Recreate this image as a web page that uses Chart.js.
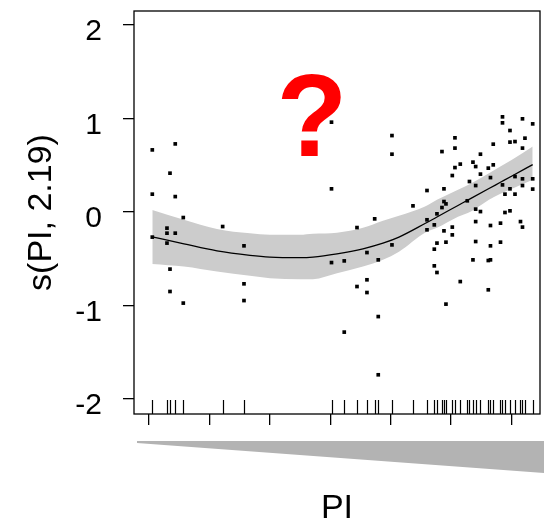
<!DOCTYPE html>
<html>
<head>
<meta charset="utf-8">
<script src="https://cdn.jsdelivr.net/npm/chart.js@4.4.1/dist/chart.umd.min.js"></script>
<style>
  html, body { margin: 0; padding: 0; background: #fff; }
  canvas { display: block; }
</style>
</head>
<body>
<canvas id="smoothPlot" width="544" height="522"></canvas>
<script>
// s(PI, 2.19): fitted smooth, +/- 2 SE band and partial residuals

const X_TICKS = [0, 1, 2, 3, 4, 5, 6];
const Y_TICKS = [-2, -1, 0, 1, 2];

const FIT_X = [0.055, 0.579, 1.126, 1.672, 2.003, 2.500, 2.715, 3.113, 3.543, 3.874,
               4.139, 4.570, 4.768, 5.116, 5.331, 5.629, 5.811, 6.010, 6.353];
const FIT_Y = [-0.267, -0.342, -0.417, -0.465, -0.484, -0.490, -0.484, -0.449, -0.395, -0.335,
               -0.270, -0.125, -0.055, 0.068, 0.144, 0.249, 0.313, 0.383, 0.505];
const BAND_UPPER = [0.021, -0.085, -0.182, -0.230, -0.246, -0.246, -0.235, -0.224, -0.171, -0.096,
                    -0.043, 0.057, 0.128, 0.235, 0.303, 0.413, 0.481, 0.556, 0.698];
const BAND_LOWER = [-0.556, -0.584, -0.638, -0.684, -0.709, -0.721, -0.719, -0.655, -0.584, -0.513,
                    -0.427, -0.224, -0.171, -0.053, 0.003, 0.128, 0.192, 0.246, 0.342];

const RESID_X = [
  0.055, 0.435, 0.348, 0.055, 0.435, 0.568, 1.220, 0.298, 0.298, 0.435,
  0.055, 0.298, 1.573, 0.348, 0.348, 0.568, 1.573, 1.573,
  3.022, 4.023, 4.023, 3.022, 3.737, 3.444, 3.022, 3.233, 3.609, 3.796,
  4.023, 3.609, 3.444, 3.609, 3.796, 3.233, 3.796,
  5.853, 5.853, 6.184, 6.353, 5.977, 5.066, 5.977, 6.060, 6.225, 5.700,
  5.066, 6.184, 4.851, 5.488, 5.154, 5.066, 5.364, 5.409, 5.618, 5.700,
  5.022, 5.488, 5.654, 5.306, 5.409, 6.060, 6.184, 6.353, 4.884, 4.603,
  5.853, 5.977, 6.184, 6.353, 5.894, 6.060, 4.371, 4.884, 4.917, 5.270,
  4.851, 5.409, 5.488, 5.894, 5.977, 4.768, 4.603, 5.409, 4.724, 6.151,
  6.184, 4.603, 5.022, 4.884, 5.022, 5.654, 5.820, 4.768, 4.917, 5.409,
  5.820, 4.724, 5.654, 5.364, 5.618, 5.654, 4.724, 4.768, 5.154, 5.618,
  4.917
];
const RESID_Y = [
  0.662, 0.726, 0.413, 0.189, 0.163, -0.061, -0.157, -0.174, -0.228, -0.228,
  -0.270, -0.334, -0.363, -0.612, -0.851, -0.975, -0.769, -0.948,
  0.958, 0.815, 0.616, 0.246, -0.075, -0.168, -0.542, -0.524, -0.435, -0.513,
  -0.353, -0.726, -0.798, -0.862, -1.119, -1.285, -1.741,
  1.015, 0.951, 0.994, 0.940, 0.869, 0.791, 0.745, 0.751, 0.787, 0.723,
  0.681, 0.681, 0.644, 0.616, 0.510, 0.473, 0.531, 0.484, 0.467, 0.502,
  0.388, 0.403, 0.366, 0.324, 0.281, 0.377, 0.353, 0.353, 0.246, 0.228,
  0.288, 0.246, 0.281, 0.243, 0.189, 0.189, 0.064, 0.110, 0.085, 0.118,
  0.046, 0.029, 0.003, -0.007, 0.011, -0.021, -0.085, -0.104, -0.139, -0.104,
  -0.163, -0.192, -0.163, -0.203, -0.246, -0.146, -0.121, -0.334, -0.324, -0.317,
  -0.324, -0.399, -0.363, -0.513, -0.520, -0.513, -0.577, -0.648, -0.745, -0.833,
  -0.986
];

const FONT = "'Liberation Sans', Arial, sans-serif";

const toPoints = (xs, ys) => xs.map((x, i) => ({ x: x, y: ys[i] }));

// box round the plotting region
const framePlugin = {
  id: 'frame',
  afterDraw(chart) {
    const { ctx, chartArea: a } = chart;
    ctx.save();
    ctx.strokeStyle = '#000';
    ctx.lineWidth = 1.3;
    ctx.strokeRect(a.left, a.top, a.right - a.left, a.bottom - a.top);
    ctx.restore();
  }
};

// rug of observed PI values along the bottom edge
const rugPlugin = {
  id: 'rug',
  afterDatasetsDraw(chart) {
    const { ctx, chartArea: a } = chart;
    const xScale = chart.scales.x;
    const seen = new Set(RESID_X);
    ctx.save();
    ctx.strokeStyle = '#000';
    ctx.lineWidth = 1.2;
    ctx.beginPath();
    seen.forEach(v => {
      const px = Math.round(xScale.getPixelForValue(v)) + 0.5;
      ctx.moveTo(px, a.bottom - 14);
      ctx.lineTo(px, a.bottom);
    });
    ctx.stroke();
    ctx.restore();
  }
};

// grey wedge under the axis and the red question mark
const decorPlugin = {
  id: 'decor',
  afterDraw(chart) {
    const { ctx, chartArea: a, width } = chart;
    const top = a.bottom + 27;
    ctx.save();
    ctx.fillStyle = '#b3b3b3';
    ctx.beginPath();
    ctx.moveTo(a.left + 3, top);
    ctx.lineTo(width, top);
    ctx.lineTo(width, top + 32);
    ctx.lineTo(a.left + 3, top + 2);
    ctx.closePath();
    ctx.fill();

    ctx.fillStyle = '#ff0000';
    ctx.font = 'bold 116px ' + FONT;
    ctx.textAlign = 'center';
    ctx.textBaseline = 'alphabetic';
    ctx.fillText('?', 312, 156);
    ctx.restore();
  }
};

new Chart(document.getElementById('smoothPlot'), {
  type: 'line',
  data: {
    datasets: [
      {
        label: 'fit',
        data: toPoints(FIT_X, FIT_Y),
        borderColor: '#000',
        borderWidth: 1.3,
        pointRadius: 0,
        cubicInterpolationMode: 'monotone',
        fill: false,
        order: 0
      },
      {
        type: 'scatter',
        label: 'partial residuals',
        data: toPoints(RESID_X, RESID_Y),
        pointStyle: 'rect',
        pointRadius: 2.6,
        pointBackgroundColor: '#000',
        pointBorderWidth: 0,
        showLine: false,
        order: 1
      },
      {
        label: 'lower',
        data: toPoints(FIT_X, BAND_LOWER),
        borderWidth: 0,
        borderColor: 'rgba(0,0,0,0)',
        pointRadius: 0,
        cubicInterpolationMode: 'monotone',
        fill: false,
        order: 2
      },
      {
        label: 'upper',
        data: toPoints(FIT_X, BAND_UPPER),
        borderWidth: 0,
        borderColor: 'rgba(0,0,0,0)',
        backgroundColor: '#cccccc',
        pointRadius: 0,
        cubicInterpolationMode: 'monotone',
        fill: '-1',
        order: 3
      }
    ]
  },
  options: {
    responsive: false,
    animation: false,
    devicePixelRatio: 1,
    events: [],
    layout: { padding: { left: 0, top: 11, right: 4, bottom: 0 } },
    plugins: {
      legend: { display: false },
      tooltip: { enabled: false }
    },
    scales: {
      x: {
        type: 'linear',
        min: -0.248,
        max: 6.474,
        afterBuildTicks: scale => { scale.ticks = X_TICKS.map(v => ({ value: v })); },
        afterFit: scale => {
          scale.height = 108;
          scale.paddingLeft = 0;
          scale.paddingRight = 0;
        },
        border: { display: false },
        grid: {
          drawOnChartArea: false,
          drawTicks: true,
          tickLength: 11,
          color: '#000',
          lineWidth: 1.3
        },
        ticks: { display: false },
        title: {
          display: true,
          text: 'PI',
          color: '#000',
          font: { family: FONT, size: 34, lineHeight: 0.8 },
          padding: { top: 0, bottom: 0 }
        }
      },
      y: {
        type: 'linear',
        min: -2.16,
        max: 2.146,
        afterBuildTicks: scale => { scale.ticks = Y_TICKS.map(v => ({ value: v })); },
        afterFit: scale => {
          scale.width = 134;
          scale.paddingTop = 0;
          scale.paddingBottom = 0;
        },
        border: { display: false },
        grid: {
          drawOnChartArea: false,
          drawTicks: true,
          tickLength: 11,
          color: '#000',
          lineWidth: 1.3
        },
        ticks: {
          color: '#000',
          font: { family: FONT, size: 30 },
          padding: 21,
          labelOffset: 7
        },
        title: {
          display: true,
          text: 's(PI, 2.19)',
          color: '#000',
          font: { family: FONT, size: 34, lineHeight: 1 },
          padding: { top: 25, bottom: 0 }
        }
      }
    }
  },
  plugins: [framePlugin, rugPlugin, decorPlugin]
});
</script>
</body>
</html>
